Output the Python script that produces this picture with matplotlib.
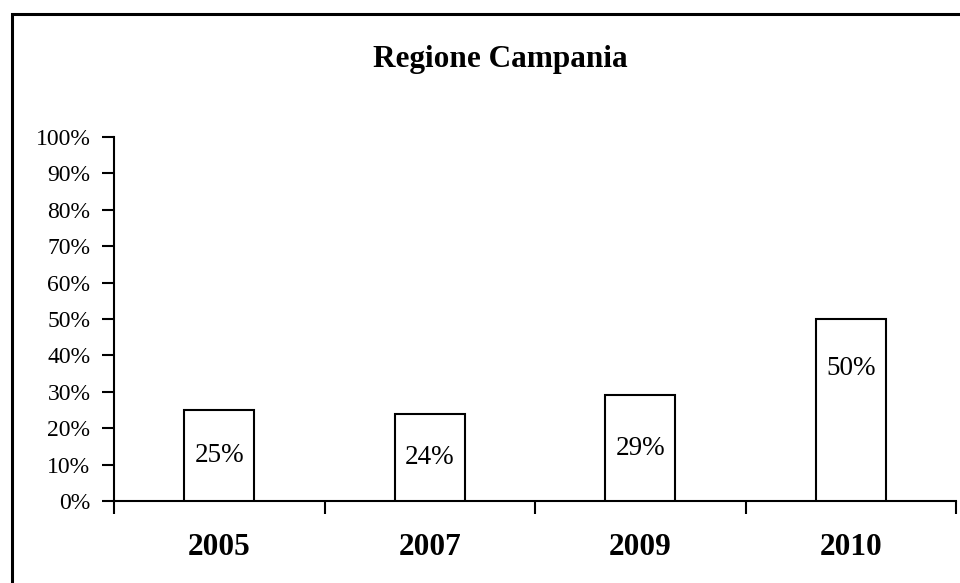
import matplotlib
matplotlib.use("Agg")
import matplotlib.pyplot as plt
from matplotlib.patches import Rectangle

categories = ["2005", "2007", "2009", "2010"]
values = [0.25, 0.24, 0.29, 0.50]
value_labels = ["25%", "24%", "29%", "50%"]
yticks = [0, 0.1, 0.2, 0.3, 0.4, 0.5, 0.6, 0.7, 0.8, 0.9, 1.0]
ytick_labels = ["0%", "10%", "20%", "30%", "40%", "50%", "60%", "70%", "80%", "90%", "100%"]
title = "Regione Campania"

# label vertical placement as fraction of bar height (style)
label_frac = [0.5, 0.5, 0.5, 0.73]

plt.rcParams['font.family'] = ['Liberation Serif', 'DejaVu Serif']

fig = plt.figure(figsize=(9.6, 5.83), dpi=100)
fig.patches.append(Rectangle((11.5 / 960, -0.05), 1.1, 1 - 13.5 / 583 + 0.05,
                             transform=fig.transFigure, fill=False,
                             edgecolor='black', linewidth=2.2, clip_on=False))

ax = fig.add_axes([114 / 960, 1 - 501 / 583, (956 - 114) / 960, (501 - 137) / 583])
x = list(range(len(categories)))
ax.bar(x, values, width=0.333, color='white', edgecolor='black', linewidth=1.5, zorder=3)
for xi, v, lab, f in zip(x, values, value_labels, label_frac):
    ax.text(xi, v * f, lab, ha='center', va='center', fontsize=19.5, zorder=4)

ax.set_xlim(-0.5, len(categories) - 0.5)
ax.set_ylim(0, 1)
ax.set_yticks(yticks)
ax.set_yticklabels(ytick_labels, fontsize=17)
ax.set_xticks([i - 0.5 for i in range(len(categories) + 1)])
ax.set_xticklabels([])
ax.set_xticks(x, minor=True)
ax.set_xticklabels(categories, minor=True, fontsize=22.5, fontweight='bold')
ax.tick_params(axis='x', which='minor', length=0, pad=23)
ax.tick_params(axis='x', which='major', direction='out', length=9, width=1.5)
ax.tick_params(axis='y', direction='out', length=9, width=1.5, pad=8)
for s in ['top', 'right']:
    ax.spines[s].set_visible(False)
ax.spines['left'].set_linewidth(1.5)
ax.spines['bottom'].set_linewidth(1.5)

fig.text(500 / 960, 1 - 60 / 583, title, ha='center', va='center',
         fontsize=22.5, fontweight='bold')

fig.savefig("out.png", dpi=100, facecolor='white')
